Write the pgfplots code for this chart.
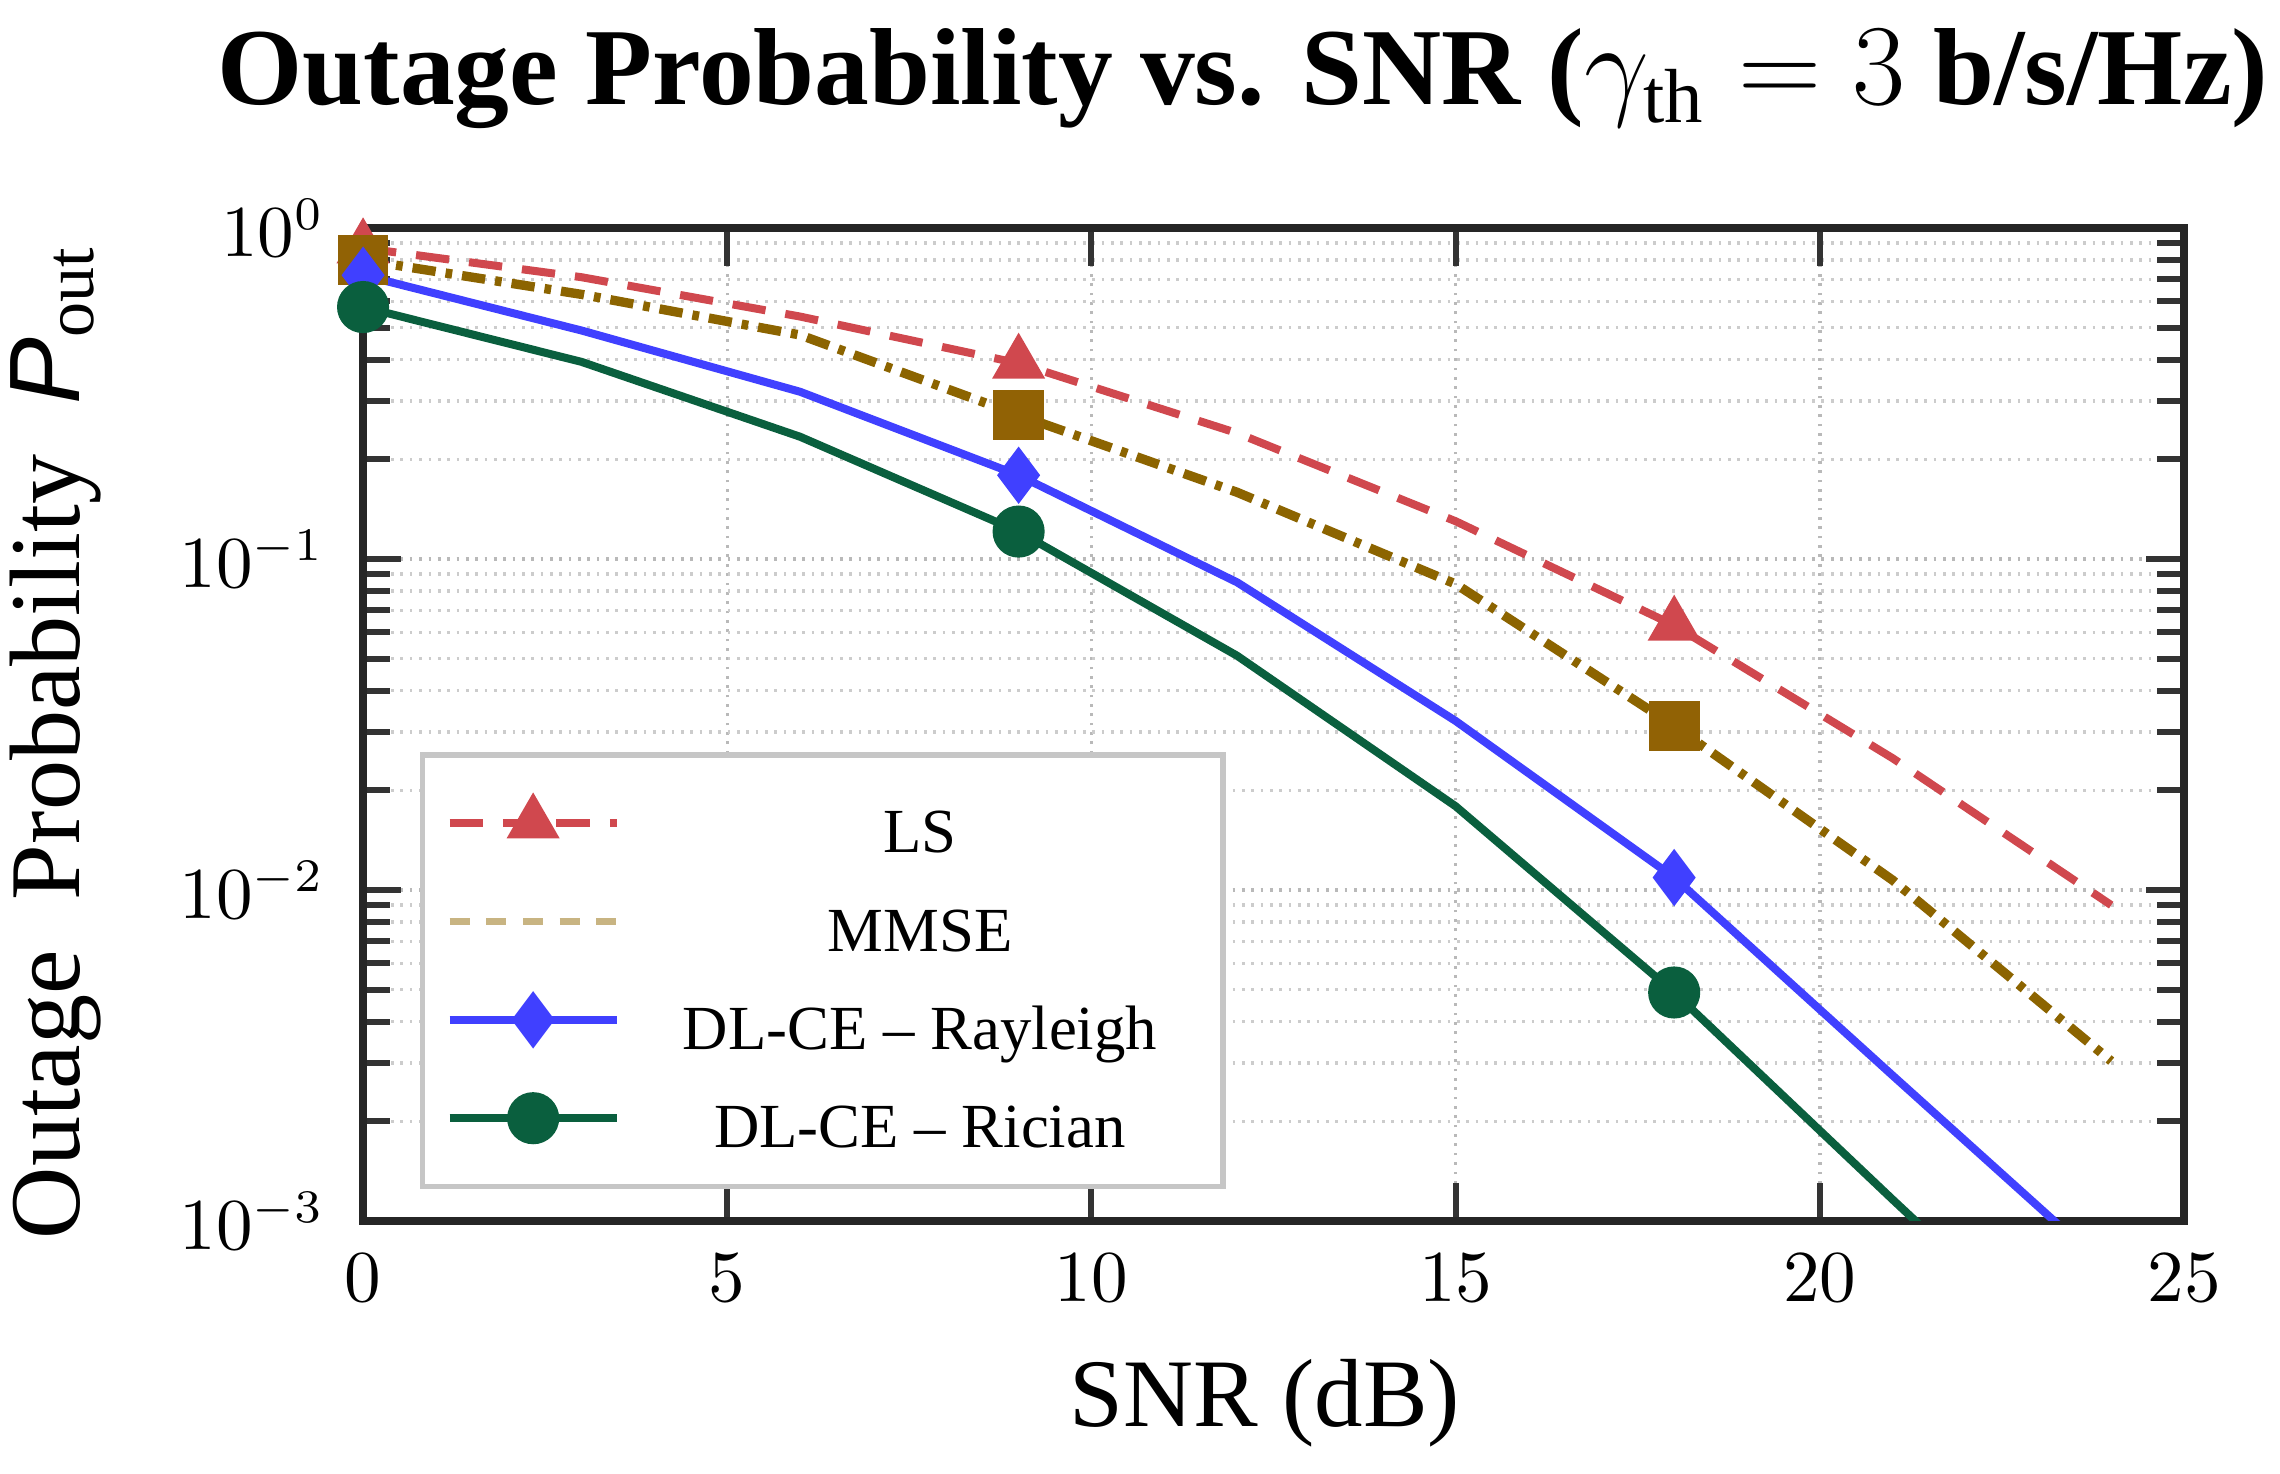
\documentclass[border=0pt]{standalone}
\usepackage{fontspec}
\setmainfont{Liberation Serif}
\setsansfont{Liberation Sans}
\usepackage{pgfplots}
\pgfplotsset{compat=1.18}

\definecolor{lsred}{RGB}{208,72,78}
\definecolor{mmseolive}{RGB}{140,100,0}
\definecolor{mmsesq}{RGB}{145,98,5}
\definecolor{mmselegend}{RGB}{200,180,130}
\definecolor{rayblue}{RGB}{64,64,255}
\definecolor{ricgreen}{RGB}{10,95,62}

% outage probability against SNR, sampled every 3 dB
\pgfplotstableread{
snr  ls     mmse    ray      ric
0    0.87   0.80    0.72     0.577
3    0.71   0.63    0.49     0.394
6    0.54   0.475   0.32     0.234
9    0.39   0.272   0.179    0.121
12   0.24   0.159   0.085    0.051
15   0.13   0.084   0.0324   0.0179
18   0.063  0.0313  0.0109   0.0049
21   0.025  0.0107  0.00275  0.00116
24   0.009  0.00304 0.0007   0.00028
}\outagedata

\begin{document}
\begin{tikzpicture}
\begin{axis}[
  name=ax,
  scale only axis,
  width=9.584cm, height=5.226cm,
  ymode=log,
  xmin=0, xmax=25, ymin=1e-3, ymax=1,
  xtick={0,5,10,15,20,25},
  ytick={1e-3,1e-2,1e-1,1},
  grid=both,
  major grid style={densely dotted, gray!55, line width=0.5pt},
  minor grid style={densely dotted, gray!40, line width=0.5pt},
  axis line style={line width=1.2pt, black!85},
  tick style={black!80, line width=0.9pt},
  major tick length=0.2cm,
  minor tick length=0.14cm,
  tick label style={font=\fontsize{10.5}{12}\selectfont},
  xticklabel style={yshift=-0.05cm},
  yticklabel style={xshift=-0.08cm},
  clip=true,
  legend style={
    at={(0.0313,0.0321)}, anchor=south west,
    draw=gray!45, line width=0.8pt, fill=white,
    inner xsep=0.12cm, inner ysep=0.15cm,
    row sep=0.1cm, column sep=0.1cm,
    font=\fontsize{9.4}{11}\selectfont,
    nodes={inner sep=0pt},
  },
  legend image code/.code={%
    \draw[mark repeat=2,mark phase=2,#1] plot coordinates {(0cm,0cm) (0.44cm,0cm) (0.88cm,0cm)};},
]
\addplot[lsred, line width=1.2pt, dash pattern=on 5pt off 3pt,
  mark=triangle*, mark size=3.4pt, mark repeat=3, mark options={solid, fill=lsred}]
  table[x=snr, y=ls] {\outagedata};
\addlegendentry{\rule[-0.145cm]{0pt}{0.51cm}\makebox[2.95cm]{LS}}

\addplot[mmseolive, line width=1.4pt, dash pattern=on 3.5pt off 1.5pt on 1pt off 1.5pt,
  mark=square*, mark size=3.1pt, mark repeat=3, mark options={solid, draw=mmsesq, fill=mmsesq},
  legend image code/.code={%
    \draw[mmselegend, line width=1pt, dash pattern=on 3pt off 2.5pt] (0cm,0cm) -- (0.88cm,0cm);}]
  table[x=snr, y=mmse] {\outagedata};
\addlegendentry{\rule[-0.145cm]{0pt}{0.51cm}\makebox[2.95cm]{MMSE}}

\addplot[rayblue, line width=1.2pt, solid,
  mark=diamond*, mark size=3.3pt, mark repeat=3, mark options={fill=rayblue}]
  table[x=snr, y=ray] {\outagedata};
\addlegendentry{\rule[-0.145cm]{0pt}{0.51cm}\makebox[2.95cm]{DL-CE -- Rayleigh}}

\addplot[ricgreen, line width=1.2pt, solid,
  mark=*, mark size=3.3pt, mark repeat=3, mark options={fill=ricgreen}]
  table[x=snr, y=ric] {\outagedata};
\addlegendentry{\rule[-0.145cm]{0pt}{0.51cm}\makebox[2.95cm]{DL-CE -- Rician}}
\end{axis}

% title and axis labels
\node[anchor=base, font=\fontsize{16.4}{19}\selectfont\bfseries]
  at ([xshift=4.63cm, yshift=5.874cm]ax.south west)
  {Outage Probability vs. SNR ($\gamma_{\mathrm{th}} = 3$ b/s/Hz)};
\node[rotate=90, font=\fontsize{15}{18}\selectfont]
  at ([xshift=-1.62cm, yshift=2.52cm]ax.south west)
  {Outage\ \ Probability\ \ {\sffamily\itshape P}$_{\mathrm{out}}$};
\node[font=\fontsize{14.5}{17}\selectfont]
  at ([xshift=4.747cm, yshift=-0.957cm]ax.south west) {SNR (dB)};

\pgfresetboundingbox
\path ([xshift=-1.911cm, yshift=-1.332cm]ax.south west) rectangle ++(12cm, 7.758cm);
\end{tikzpicture}
\end{document}
